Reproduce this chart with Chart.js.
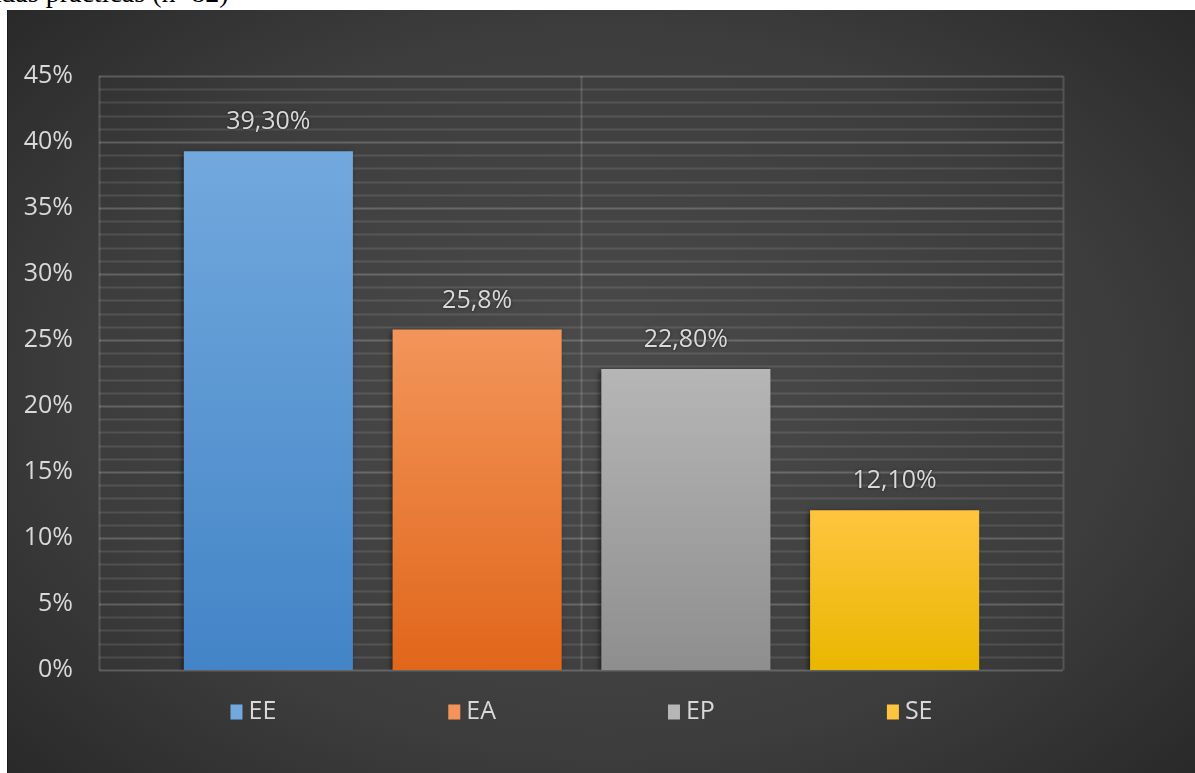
<!DOCTYPE html>
<html>
<head>
<meta charset="utf-8">
<script src="https://cdn.jsdelivr.net/npm/chart.js@4.4.1/dist/chart.umd.min.js"></script>
<style>
  html, body { margin: 0; padding: 0; background: #fff; overflow: hidden; }
  body { width: 1195px; height: 773px; position: relative; }
  .caption {
    position: absolute; left: -36px; top: -23px;
    font: 28px "Liberation Serif", "Times New Roman", serif;
    color: #000; white-space: nowrap;
  }
  #panel {
    position: absolute; left: 7px; top: 10px; width: 1188px; height: 763px;
    background: radial-gradient(ellipse 72% 78% at 50% 50%, #4b4b4b 0%, #3d3d3d 60%, #262626 100%);
    border-left: 1px solid #1c1c1c;
    box-sizing: border-box;
  }
  canvas { display: block; }
</style>
</head>
<body>
<div class="caption">usadas prácticas (n=82)</div>
<div id="panel"><canvas id="chart" width="1187" height="763"></canvas></div>
<script>
// share of answers per group
const groups = ["EE", "EA", "EP", "SE"];
const shares = [39.3, 25.8, 22.8, 12.1];
const shareLabels = ["39,30%", "25,8%", "22,80%", "12,10%"];
const yTicks = [0, 5, 10, 15, 20, 25, 30, 35, 40, 45];

// bar fill: light at the top, deeper at the base
const topColors = ["#72a9dd", "#f3955a", "#b6b6b6", "#ffc43f"];
const bottomColors = ["#4384c7", "#e0661a", "#8e8e8e", "#e9b700"];

const FONT = "'Open Sans', 'Noto Sans', sans-serif";
const TEXT = "#d9d9d9";

function barFill(ctx) {
  const chart = ctx.chart;
  const i = ctx.dataIndex;
  if (!chart.chartArea || !chart.scales.y) return topColors[i];
  const y = chart.scales.y;
  const g = chart.ctx.createLinearGradient(0, y.getPixelForValue(shares[i]), 0, y.getPixelForValue(0));
  g.addColorStop(0, topColors[i]);
  g.addColorStop(1, bottomColors[i]);
  return g;
}

// horizontal lines every 1% (brighter every 5%), running a bit wider than the bars
const plotGrid = {
  id: "plotGrid",
  beforeDatasetsDraw(chart) {
    const { ctx, chartArea: a, scales: { y } } = chart;
    const left = a.left - 65, right = a.right + 64;
    ctx.save();
    for (let v = 0; v <= 45; v++) {
      const py = Math.round(y.getPixelForValue(v)) + 0.5;
      ctx.strokeStyle = v % 5 === 0 ? "rgba(255,255,255,0.2)" : "rgba(255,255,255,0.11)";
      ctx.lineWidth = 2;
      ctx.beginPath();
      ctx.moveTo(left, py);
      ctx.lineTo(right, py);
      ctx.stroke();
    }
    const top = Math.round(y.getPixelForValue(45)), bottom = Math.round(y.getPixelForValue(0));
    ctx.strokeStyle = "rgba(255,255,255,0.15)";
    [left, (left + right) / 2, right].forEach((x) => {
      ctx.beginPath();
      ctx.moveTo(Math.round(x) + 0.5, top);
      ctx.lineTo(Math.round(x) + 0.5, bottom);
      ctx.stroke();
    });
    ctx.restore();

    // soft shadow under the bars
    ctx.save();
    ctx.shadowColor = "rgba(0,0,0,0.55)";
    ctx.shadowBlur = 5;
    ctx.shadowOffsetX = -2;
    ctx.shadowOffsetY = 2;
  },
  afterDatasetsDraw(chart) {
    const { ctx } = chart;
    ctx.restore();

    // value labels above each bar
    const meta = chart.getDatasetMeta(0);
    ctx.save();
    ctx.font = "25px " + FONT;
    ctx.fillStyle = TEXT;
    ctx.textAlign = "center";
    ctx.textBaseline = "middle";
    ctx.shadowColor = "rgba(0,0,0,0.6)";
    ctx.shadowBlur = 3;
    meta.data.forEach((bar, i) => {
      ctx.fillText(shareLabels[i], bar.x, bar.y - 29);
    });
    ctx.restore();
  },
};

// one legend entry per bar, centred under the plot
const barLegend = {
  id: "barLegend",
  afterDraw(chart) {
    const { ctx, chartArea: a } = chart;
    const box = 12, boxH = 15, gap = 6, itemGap = 172;
    ctx.save();
    ctx.font = "25px " + FONT;
    const widths = groups.map((g) => box + gap + ctx.measureText(g).width);
    const total = widths.reduce((s, w) => s + w, 0) + itemGap * (groups.length - 1);
    let x = (a.left + a.right) / 2 - total / 2;
    const cy = a.bottom + 42;
    groups.forEach((g, i) => {
      ctx.fillStyle = topColors[i];
      ctx.fillRect(x, cy - boxH / 2, box, boxH);
      ctx.fillStyle = TEXT;
      ctx.textBaseline = "middle";
      ctx.textAlign = "left";
      ctx.fillText(g, x + box + gap, cy);
      x += widths[i] + itemGap;
    });
    ctx.restore();
  },
};

new Chart(document.getElementById("chart"), {
  type: "bar",
  data: {
    labels: groups,
    datasets: [{
      data: shares,
      backgroundColor: barFill,
      borderWidth: 0,
      barPercentage: 0.81,
      categoryPercentage: 1,
    }],
  },
  options: {
    responsive: false,
    animation: false,
    layout: { padding: { left: 0, right: 196, top: 66, bottom: 103 } },
    plugins: { legend: { display: false }, tooltip: { enabled: false } },
    scales: {
      x: { display: false },
      y: {
        min: 0,
        max: 45,
        afterFit: (scale) => {
          // wide label gutter, but no extra room above/below the plot
          scale.width = 156;
          scale.paddingTop = 0;
          scale.paddingBottom = 0;
        },
        afterBuildTicks: (scale) => { scale.ticks = yTicks.map((v) => ({ value: v })); },
        grid: { display: false, drawTicks: false },
        border: { display: false },
        ticks: {
          padding: 91,
          color: TEXT,
          font: { family: FONT, size: 25 },
          callback: (v) => v + "%",
        },
      },
    },
  },
  plugins: [plotGrid, barLegend],
});
</script>
</body>
</html>
